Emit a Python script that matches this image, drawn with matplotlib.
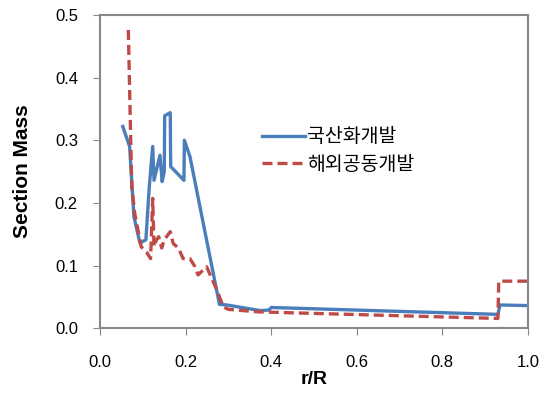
import matplotlib
matplotlib.use('Agg')
import matplotlib.pyplot as plt

plt.rcParams['font.family'] = ['Noto Sans CJK KR', 'DejaVu Sans']

# 국산화개발 (domestic development)
blue_r = [0.053, 0.069, 0.079, 0.093, 0.107, 0.115, 0.123, 0.126, 0.140, 0.145,
          0.150, 0.151, 0.164, 0.165, 0.196, 0.197, 0.210, 0.279, 0.296, 0.375,
          0.395, 0.400, 0.930, 0.935, 1.0]
blue_m = [0.322, 0.290, 0.178, 0.136, 0.141, 0.226, 0.290, 0.236, 0.276, 0.234,
          0.250, 0.339, 0.344, 0.258, 0.236, 0.300, 0.274, 0.038, 0.037, 0.028,
          0.029, 0.033, 0.022, 0.037, 0.036]

# 해외공동개발 (joint overseas development)
red_r = [0.066, 0.070, 0.074, 0.081, 0.096, 0.110, 0.118, 0.123, 0.126, 0.131,
         0.137, 0.144, 0.150, 0.164, 0.171, 0.183, 0.194, 0.210, 0.222, 0.229,
         0.249, 0.273, 0.288, 0.300, 0.370, 0.930, 0.932, 1.0]
red_m = [0.476, 0.350, 0.226, 0.183, 0.130, 0.120, 0.111, 0.207, 0.130, 0.140,
         0.146, 0.128, 0.141, 0.154, 0.135, 0.128, 0.111, 0.111, 0.098, 0.085,
         0.098, 0.061, 0.034, 0.030, 0.026, 0.0155, 0.075, 0.075]

xticks = [0.0, 0.2, 0.4, 0.6, 0.8, 1.0]
yticks = [0.0, 0.1, 0.2, 0.3, 0.4, 0.5]

fig = plt.figure(figsize=(5.47, 3.93), dpi=100)
ax = fig.add_axes([0.183, 0.165, 0.782, 0.797])

ax.plot(blue_r, blue_m, color='#4A7EBB', lw=2.4, label='국산화개발')
ax.plot(red_r, red_m, color='#BE4B48', lw=2.4, dashes=(3, 1.5), label='해외공동개발')

ax.set_xlim(0, 1.0)
ax.set_ylim(0, 0.5)
ax.set_xticks(xticks)
ax.set_yticks(yticks)
ax.set_xticklabels(['%.1f' % v for v in xticks], family='Liberation Sans')
ax.set_yticklabels(['%.1f' % v for v in yticks], family='Liberation Sans')
ax.tick_params(direction='out', length=5, color='#888888', labelsize=12)
ax.tick_params(axis='y', pad=11)
ax.tick_params(axis='x', pad=14)
for s in ax.spines.values():
    s.set_color('#888888')
    s.set_linewidth(1.5)

ax.set_xlabel('r/R', fontsize=14, fontweight='bold', family='Liberation Sans', labelpad=1)
ax.set_ylabel('Section Mass', fontsize=15, fontweight='bold', family='Liberation Sans')
ax.yaxis.set_label_coords(-0.16, 0.5)

ax.legend(loc='upper left', bbox_to_anchor=(0.337, 0.70), frameon=False,
          fontsize=14, handlelength=2.2, handletextpad=0.15, labelspacing=0.35)

fig.savefig('out.png', dpi=100)
